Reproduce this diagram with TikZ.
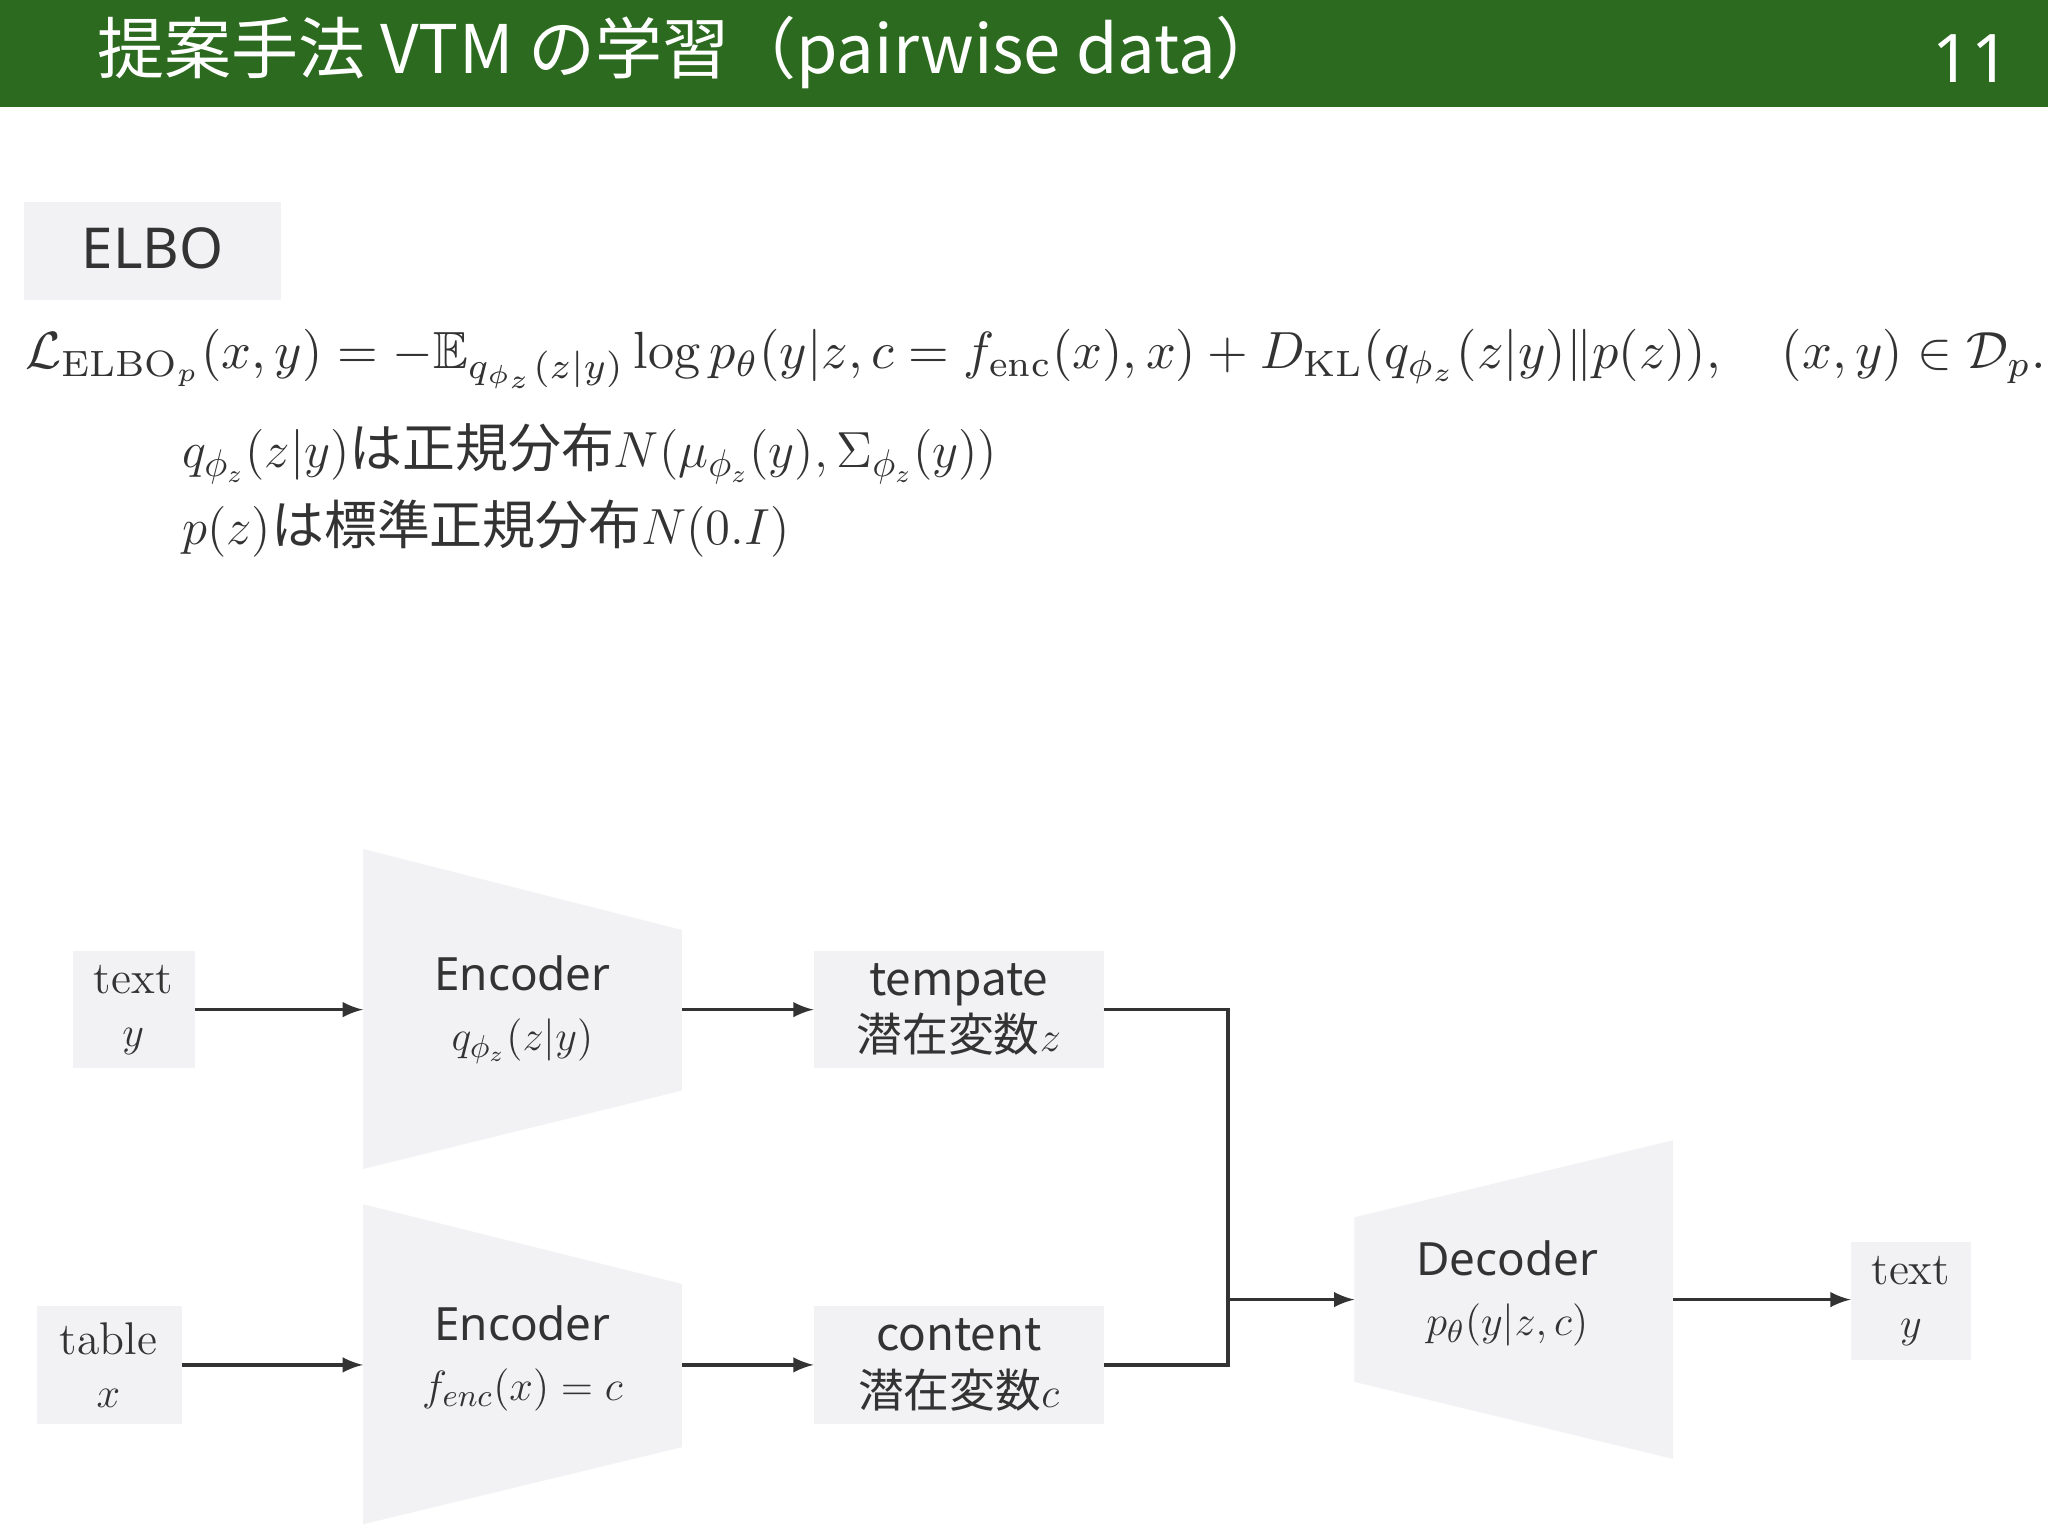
\documentclass[tikz,border=0pt]{standalone}
\usepackage{amsmath,amssymb}
\usepackage{fontspec}
\newfontfamily\jp{Noto Sans CJK JP}
\newfontfamily\hd{Noto Sans}
\definecolor{hdr}{HTML}{2C6A1F}
\definecolor{bx}{HTML}{F2F1F4}
\definecolor{ln}{HTML}{333333}
\begin{document}
\begin{tikzpicture}[x=0.3704pt,y=-0.3704pt,
  gb/.style={fill=bx,draw=none},
  ar/.style={draw=ln,line width=1pt,-latex},
  lbl/.style={align=center,font=\fontsize{13}{17}\selectfont,text=ln}]
\useasboundingbox (0,0) rectangle (1568,1176);
\fill[white] (0,0) rectangle (1568,1176);
\fill[hdr] (0,0) rectangle (1568,82);
\node[anchor=west,text=white,font=\jp\fontsize{19}{22}\selectfont] (title) at (65,40) {提案手法 VTM の学習（pairwise data）};
\node[anchor=east,text=white,font=\hd\fontsize{19}{22}\selectfont] (num) at (1548,45) {11};
\fill[bx] (18,155) rectangle (215,230);
\node[font=\hd\bfseries\fontsize{16}{18}\selectfont,text=ln] (elbo) at (117,190) {ELBO};
\node[anchor=west,text=ln] (eq) at (10,275) {\resizebox{573pt}{!}{$\mathcal{L}_{\mathrm{ELBO}_p}(x,y)=-\mathbb{E}_{q_{\phi_z}(z|y)}\log p_\theta(y|z,c=f_{\mathrm{enc}}(x),x)+D_{\mathrm{KL}}(q_{\phi_z}(z|y)\|p(z)),\quad (x,y)\in\mathcal{D}_p.$}};
\node[anchor=west,text=ln,font=\jp\fontsize{15}{18}\selectfont] (l1) at (130,347) {$q_{\phi_z}(z|y)$は正規分布$N(\mu_{\phi_z}(y),\Sigma_{\phi_z}(y))$};
\node[anchor=west,text=ln,font=\jp\fontsize{15}{18}\selectfont] (l2) at (130,405) {$p(z)$は標準正規分布$N(0.I)$};
% boxes
\fill[bx] (56,728) rectangle (149,818);
\node[lbl] (ty) at (102,773) {text\\[-2pt]$y$};
\fill[bx] (28,1000) rectangle (139,1090);
\node[lbl] (tx) at (83,1045) {table\\[-2pt]$x$};
\fill[bx] (278,650) -- (522,712) -- (522,835) -- (278,895) -- cycle;
\node[lbl,font=\hd\fontsize{13}{17}\selectfont] (e1) at (400,773) {Encoder\\$q_{\phi_z}(z|y)$};
\fill[bx] (278,922) -- (522,983) -- (522,1108) -- (278,1167) -- cycle;
\node[lbl,font=\hd\fontsize{13}{17}\selectfont] (e2) at (400,1040) {Encoder\\$f_{enc}(x)=c$};
\fill[bx] (623,728) rectangle (845,818);
\node[lbl,font=\jp\fontsize{13}{16}\selectfont] (tp) at (734,773) {tempate\\潜在変数$z$};
\fill[bx] (623,1000) rectangle (845,1090);
\node[lbl,font=\jp\fontsize{13}{16}\selectfont] (ct) at (734,1045) {content\\潜在変数$c$};
\fill[bx] (1037,932) -- (1281,873) -- (1281,1117) -- (1037,1058) -- cycle;
\node[lbl,font=\hd\fontsize{13}{17}\selectfont] (dec) at (1154,990) {Decoder\\$p_\theta(y|z,c)$};
\fill[bx] (1417,951) rectangle (1509,1041);
\node[lbl] (oy) at (1463,996) {text\\[-2pt]$y$};
\coordinate (ty1) at (149,773); \coordinate (e1l) at (278,773);
\coordinate (e1r) at (522,773); \coordinate (tpl) at (623,773);
\coordinate (tx1) at (139,1045); \coordinate (e2l) at (278,1045);
\coordinate (e2r) at (522,1045); \coordinate (ctl) at (623,1045);
\coordinate (tpr) at (845,773); \coordinate (ctr) at (845,1045);
\coordinate (j) at (940,995); \coordinate (decl) at (1037,995);
\coordinate (decr) at (1281,995); \coordinate (oyl) at (1417,995);
\draw[ar] (ty1) -- (e1l);
\draw[ar] (e1r) -- (tpl);
\draw[ar] (tx1) -- (e2l);
\draw[ar] (e2r) -- (ctl);
\draw[draw=ln,line width=1pt] (tpr) -| (j);
\draw[draw=ln,line width=1pt] (ctr) -| (j);
\draw[ar] (j) -- (decl);
\draw[ar] (decr) -- (oyl);
\end{tikzpicture}
\end{document}
